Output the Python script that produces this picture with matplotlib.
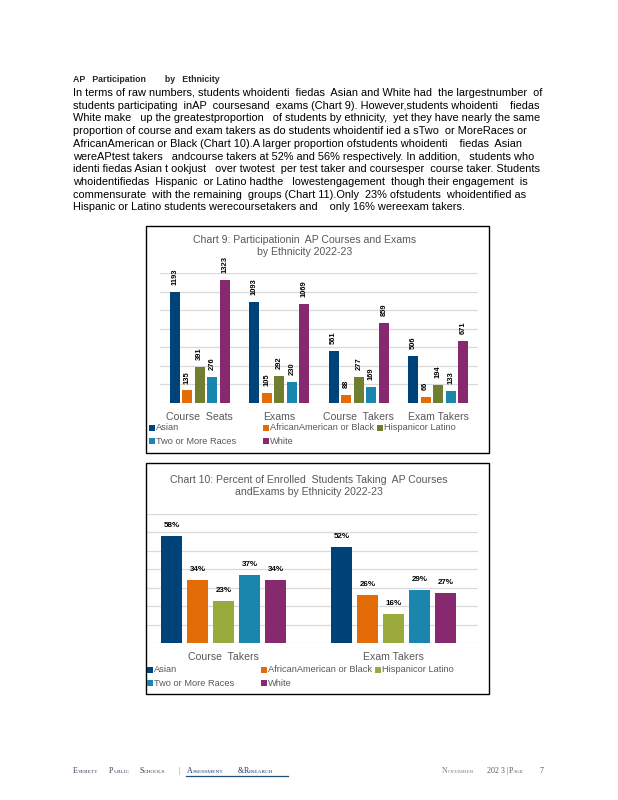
import matplotlib
matplotlib.use("Agg")
import matplotlib.pyplot as plt
from matplotlib.patches import Rectangle
import numpy as np

# ---------------- data ----------------
groups = ["Asian", "African American or Black", "Hispanic or Latino",
          "Two or More Races", "White"]
legend_labels = ["Asian", "AfricanAmerican or Black", "Hispanicor Latino",
                 "Two or More Races", "White"]

c9_categories = ["Course  Seats", "Exams", "Course  Takers", "Exam Takers"]
c9_asian = [1193, 1093, 561, 506]
c9_afam = [135, 105, 88, 66]
c9_hisp = [391, 292, 277, 194]
c9_two = [276, 230, 169, 133]
c9_white = [1323, 1069, 859, 671]

c10_categories = ["Course  Takers", "Exam Takers"]
c10_asian = [58, 52]
c10_afam = [34, 26]
c10_hisp = [23, 16]
c10_two = [37, 29]
c10_white = [34, 27]

heading = "AP   Participation        by   Ethnicity"
paragraph = [
    "In terms of raw numbers, students whoidenti  fiedas  Asian and White had  the largestnumber  of",
    "students participating  inAP  coursesand  exams (Chart 9). However,students whoidenti    fiedas",
    "White make   up the greatestproportion   of students by ethnicity,  yet they have nearly the same",
    "proportion of course and exam takers as do students whoidentif ied a sTwo  or MoreRaces or",
    "AfricanAmerican or Black (Chart 10).A larger proportion ofstudents whoidenti    fiedas  Asian",
    "wereAPtest takers   andcourse takers at 52% and 56% respectively. In addition,   students who",
    "identi fiedas Asian t ookjust   over twotest  per test taker and coursesper  course taker. Students",
    "whoidentifiedas  Hispanic  or Latino hadthe   lowestengagement  though their engagement  is",
    "commensurate  with the remaining  groups (Chart 11).Only  23% ofstudents  whoidentified as",
    "Hispanic or Latino students werecoursetakers and    only 16% wereexam takers.",
]

title9 = "Chart 9: Participationin  AP Courses and Exams\nby Ethnicity 2022-23"
title10 = "Chart 10: Percent of Enrolled  Students Taking  AP Courses\nandExams by Ethnicity 2022-23"

# ---------------- styling ----------------
W, H = 618, 800
colors9 = ["#004379", "#E36C09", "#6F7E2F", "#1A86AE", "#88296F"]
colors10 = ["#004379", "#E36C09", "#9BAA3C", "#1A86AE", "#88296F"]
gray = "#595959"
grid = "#D9D9D9"
SANS = ["Liberation Sans", "DejaVu Sans"]
NARROW = ["Liberation Sans Narrow", "Liberation Sans", "DejaVu Sans"]
SERIF = ["Liberation Serif", "DejaVu Serif"]

fig = plt.figure(figsize=(W / 100, H / 100), dpi=100)
fig.patch.set_facecolor("white")


def fx(x):
    return x / W


def fy(y):
    return 1 - y / H


def add_ax(l, t, r, b):
    return fig.add_axes([fx(l), fy(b), (r - l) / W, (b - t) / H])


# ---------------- text block ----------------
fig.text(fx(73), fy(79), heading, fontsize=6.3, fontweight="bold",
         family=NARROW, color="#262626", va="center", ha="left")
for i, line in enumerate(paragraph):
    fig.text(fx(73), fy(93 + i * 12.7), line, fontsize=7.95, family=SANS,
             color="#000000", va="center", ha="left")

# ---------------- chart boxes ----------------
for (l, t, r, b) in [(146, 226, 489, 453), (146, 463, 489, 694)]:
    fig.patches.append(Rectangle((fx(l), fy(b)), (r - l) / W, (b - t) / H,
                                 transform=fig.transFigure, fill=False,
                                 edgecolor="black", linewidth=1.0))


def style_axes(ax, ymax, step):
    ax.set_ylim(0, ymax)
    ax.set_yticks(np.arange(0, ymax + step / 2, step))
    ax.yaxis.grid(True, color=grid, linewidth=0.9)
    ax.set_axisbelow(True)
    for s in ax.spines.values():
        s.set_visible(False)
    ax.tick_params(axis="y", left=False, labelleft=False)
    ax.tick_params(axis="x", bottom=False, labelsize=7.6, labelcolor=gray,
                   pad=3)
    for lab in ax.get_xticklabels():
        lab.set_family(SANS)
    ax.set_facecolor("none")


def legend(x0, y0, colors):
    cols = [x0, x0 + 114, x0 + 228]
    for k, (lab, c) in enumerate(zip(legend_labels, colors)):
        row, col = divmod(k, 3)
        xx, yy = cols[col], y0 + row * 13
        fig.patches.append(Rectangle((fx(xx), fy(yy + 3)), 6 / W, 6 / H,
                                     transform=fig.transFigure,
                                     facecolor=c, edgecolor="none"))
        fig.text(fx(xx + 7), fy(yy), lab, fontsize=6.7, family=SANS,
                 color=gray, va="center", ha="left")


# ---------------- chart 9 ----------------
ax9 = add_ax(160, 273, 478, 403)
series9 = [c9_asian, c9_afam, c9_hisp, c9_two, c9_white]
x9 = np.arange(len(c9_categories))
step9, w9 = 0.158, 0.125
for k, (vals, c) in enumerate(zip(series9, colors9)):
    xs = x9 + (k - 2) * step9
    ax9.bar(xs, vals, width=w9, color=c, zorder=2)
    for xv, v in zip(xs, vals):
        ax9.annotate(str(v), (xv, v), xytext=(0, 5), textcoords="offset points",
                     rotation=90, ha="center", va="bottom", fontsize=5.4,
                     fontweight="bold", family=NARROW, color="black")
ax9.set_xlim(-0.5, len(c9_categories) - 0.5)
ax9.set_xticks(x9)
ax9.set_xticklabels(c9_categories)
style_axes(ax9, 1400, 200)
fig.text(fx(305), fy(246), title9, fontsize=7.6, family=SANS, color=gray,
         ha="center", va="center", linespacing=1.15)
legend(149, 428, colors9)

# ---------------- chart 10 ----------------
ax10 = add_ax(147, 514, 478, 643)
series10 = [c10_asian, c10_afam, c10_hisp, c10_two, c10_white]
x10 = np.arange(len(c10_categories))
step10, w10 = 0.153, 0.124
for k, (vals, c) in enumerate(zip(series10, colors10)):
    xs = x10 + (k - 2) * step10
    ax10.bar(xs, vals, width=w10, color=c, zorder=2)
    for xv, v in zip(xs, vals):
        ax10.annotate(f"{v}%", (xv, v), xytext=(0, 5), textcoords="offset points",
                      ha="center", va="bottom", fontsize=5.8,
                      fontweight="bold", family=NARROW, color="black")
ax10.set_xlim(-76.5 / 170, 1 + 84.5 / 170)
ax10.set_xticks(x10)
ax10.set_xticklabels(c10_categories)
style_axes(ax10, 70, 10)
fig.text(fx(309), fy(486), title10, fontsize=7.6, family=SANS, color=gray,
         ha="center", va="center", linespacing=1.15)
legend(147, 670, colors10)

# ---------------- footer (small caps) ----------------
fig.canvas.draw()
renderer = fig.canvas.get_renderer()


def small_caps(x, y, word, color, big=5.8, small=3.9):
    """Draw one word in small caps starting at pixel x; return end x."""
    cur = x
    pieces = [(word[0], big)] + ([(word[1:].upper(), small)] if len(word) > 1 else [])
    for txt, sz in pieces:
        t = fig.text(fx(cur), fy(y), txt, fontsize=sz, family=SERIF,
                     color=color, ha="left", va="baseline")
        cur += t.get_window_extent(renderer=renderer).width
    return cur


def plain(x, y, txt, color, size=5.8):
    fig.text(fx(x), fy(y), txt, fontsize=size, family=SERIF, color=color,
             ha="left", va="baseline")


yb = 773
left_dark = "#3A3A5A"
navy = "#1F3864"
for word, x in [("Everett", 73), ("Public", 109), ("Schools", 139)]:
    small_caps(x, yb, word, left_dark)
plain(178, yb, "|", "#7F7F7F")
for word, x in [("Assessment", 187), ("&", 238), ("Research", 244)]:
    small_caps(x, yb, word, navy)
fig.lines.append(plt.Line2D([fx(186), fx(288)], [fy(776), fy(776)],
                            transform=fig.transFigure, color="#1F4E79",
                            linewidth=0.9))

small_caps(442, yb, "November", "#7F7F7F")
plain(487, yb, "202 3 |", "#595959")
small_caps(509, yb, "Page", "#595959")
plain(539, yb, "7", "#595959")

fig.savefig("out.png", dpi=100, facecolor="white")
